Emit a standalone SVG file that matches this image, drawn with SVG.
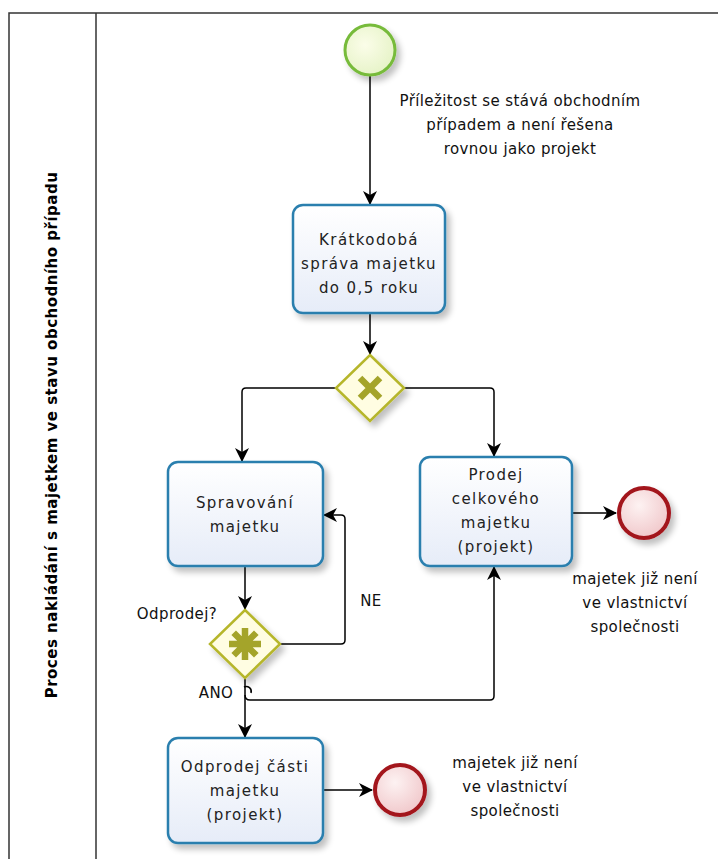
<svg xmlns="http://www.w3.org/2000/svg" width="718" height="859" viewBox="0 0 718 859">
  <defs>
    <linearGradient id="taskFill" x1="0" y1="0" x2="0" y2="1">
      <stop offset="0" stop-color="#ffffff"/>
      <stop offset="1" stop-color="#e6ecf8"/>
    </linearGradient>
    <radialGradient id="startFill" cx="0.4" cy="0.4" r="0.7">
      <stop offset="0" stop-color="#fbfde9"/>
      <stop offset="1" stop-color="#e4f2c4"/>
    </radialGradient>
    <radialGradient id="endFill" cx="0.4" cy="0.35" r="0.75">
      <stop offset="0" stop-color="#fdf2f2"/>
      <stop offset="1" stop-color="#efc3c6"/>
    </radialGradient>
    <filter id="shadow" x="-20%" y="-20%" width="150%" height="150%">
      <feGaussianBlur in="SourceAlpha" stdDeviation="3"/>
      <feOffset dx="4" dy="5" result="b"/>
      <feComponentTransfer><feFuncA type="linear" slope="0.25"/></feComponentTransfer>
      <feMerge><feMergeNode/><feMergeNode in="SourceGraphic"/></feMerge>
    </filter>
    <marker id="arrow" viewBox="0 0 14 14" refX="13" refY="7" markerWidth="14" markerHeight="14" markerUnits="userSpaceOnUse" orient="auto">
      <path d="M0,0 L14,7 L0,14 L4,7 Z" fill="#000"/>
    </marker>
  </defs>
  <style>
    .task rect { fill: url(#taskFill); stroke: #2b7fae; stroke-width: 2.5; }
    .gw path.d { fill: #fffde2; stroke: #b6b62c; stroke-width: 2.5; }
    .flow { fill: none; stroke: #000; stroke-width: 1.5; }
    .t { font-family: "DejaVu Sans", "Noto Sans", sans-serif; font-size: 15px; fill: #222; text-anchor: middle; letter-spacing: 1.4px; }
    .lbl { font-family: "DejaVu Sans", sans-serif; font-size: 15px; fill: #111; text-anchor: middle; letter-spacing: 0.4px; }
    .pool { fill: none; stroke: #333; stroke-width: 1.5; }
  </style>

  <!-- pool and lane -->
  <g id="pool">
    <rect class="pool" x="9" y="13" width="720" height="860"/>
    <line class="pool" x1="96" y1="13" x2="96" y2="859"/>
    <text x="0" y="0" transform="translate(57,435) rotate(-90)" font-family="DejaVu Sans, sans-serif" font-size="15" font-weight="bold" letter-spacing="0.5" text-anchor="middle" fill="#000">Proces nakládání s majetkem ve stavu obchodního případu</text>
  </g>

  <!-- sequence flows -->
  <g id="connectors">
    <path class="flow" d="M370,75 V204" marker-end="url(#arrow)"/>
    <path class="flow" d="M370,314 V354" marker-end="url(#arrow)"/>
    <path class="flow" d="M337,388 H246 Q242,388 242,392 V461" marker-end="url(#arrow)"/>
    <path class="flow" d="M403,388 H490 Q494,388 494,392 V456" marker-end="url(#arrow)"/>
    <path class="flow" d="M572,513 H616" marker-end="url(#arrow)"/>
    <path class="flow" d="M245,567 V609" marker-end="url(#arrow)"/>
    <path class="flow" d="M280,644 H341 Q345,644 345,640 V519 Q345,515 341,515 H324" marker-end="url(#arrow)"/>
    <path class="flow" d="M245,678 V737" marker-end="url(#arrow)"/>
    <path class="flow" d="M245,695 Q245,700 250,700 H490 Q494,700 494,696 V567" marker-end="url(#arrow)"/>
    <path class="flow" d="M244,687 A5,5 0 0 1 251,693" stroke-width="1.3"/>
    <path class="flow" d="M323,790 H372" marker-end="url(#arrow)"/>
  </g>

  <!-- start event -->
  <g id="start" filter="url(#shadow)">
    <circle cx="370" cy="50" r="25" fill="url(#startFill)" stroke="#77bb3a" stroke-width="3"/>
  </g>
  <text class="lbl" x="520" y="106">Příležitost se stává obchodním</text>
  <text class="lbl" x="520" y="130">případem a není řešena</text>
  <text class="lbl" x="520" y="154">rovnou jako projekt</text>

  <g id="task-kratkodoba" class="task">
    <rect x="293" y="205" width="152" height="108" rx="10" filter="url(#shadow)"/>
    <text class="t" x="369" y="245">Krátkodobá</text>
    <text class="t" x="369" y="269">správa majetku</text>
    <text class="t" x="369" y="293">do 0,5 roku</text>
  </g>

  <g id="gateway-xor" class="gw">
    <path class="d" d="M370,355 L404,388 L370,421 L336,388 Z" filter="url(#shadow)"/>
    <path d="M360,378 L380,398 M380,378 L360,398" stroke="#a4a42a" stroke-width="6.5" stroke-linecap="butt"/>
  </g>

  <g id="task-spravovani" class="task">
    <rect x="168" y="462" width="155" height="104" rx="10" filter="url(#shadow)"/>
    <text class="t" x="245" y="508">Spravování</text>
    <text class="t" x="245" y="532">majetku</text>
  </g>

  <g id="task-prodej" class="task">
    <rect x="420" y="457" width="152" height="109" rx="10" filter="url(#shadow)"/>
    <text class="t" x="496" y="480">Prodej</text>
    <text class="t" x="496" y="504">celkového</text>
    <text class="t" x="496" y="528">majetku</text>
    <text class="t" x="496" y="552">(projekt)</text>
  </g>

  <g id="end-prodej">
    <circle cx="644" cy="513" r="25" fill="url(#endFill)" stroke="#a3141c" stroke-width="4" filter="url(#shadow)"/>
    <text class="lbl" x="635" y="584">majetek již není</text>
    <text class="lbl" x="635" y="608">ve vlastnictví</text>
    <text class="lbl" x="635" y="632">společnosti</text>
  </g>

  <g id="gateway-complex" class="gw">
    <path class="d" d="M245,610 L280,644 L245,678 L210,644 Z" filter="url(#shadow)"/>
    <path d="M245,628 V660 M229,644 H261 M233.7,632.7 L256.3,655.3 M256.3,632.7 L233.7,655.3" stroke="#a4a42a" stroke-width="6.5"/>
    <text class="lbl" x="177" y="619" letter-spacing="1">Odprodej?</text>
    <text class="lbl" x="371" y="606">NE</text>
    <text class="lbl" x="216" y="698">ANO</text>
  </g>

  <g id="task-odprodej" class="task">
    <rect x="168" y="738" width="155" height="105" rx="10" filter="url(#shadow)"/>
    <text class="t" x="245" y="772">Odprodej části</text>
    <text class="t" x="245" y="796">majetku</text>
    <text class="t" x="245" y="820">(projekt)</text>
  </g>

  <g id="end-odprodej">
    <circle cx="400" cy="790" r="25" fill="url(#endFill)" stroke="#a3141c" stroke-width="4" filter="url(#shadow)"/>
    <text class="lbl" x="515" y="768">majetek již není</text>
    <text class="lbl" x="515" y="792">ve vlastnictví</text>
    <text class="lbl" x="515" y="816">společnosti</text>
  </g>
</svg>
